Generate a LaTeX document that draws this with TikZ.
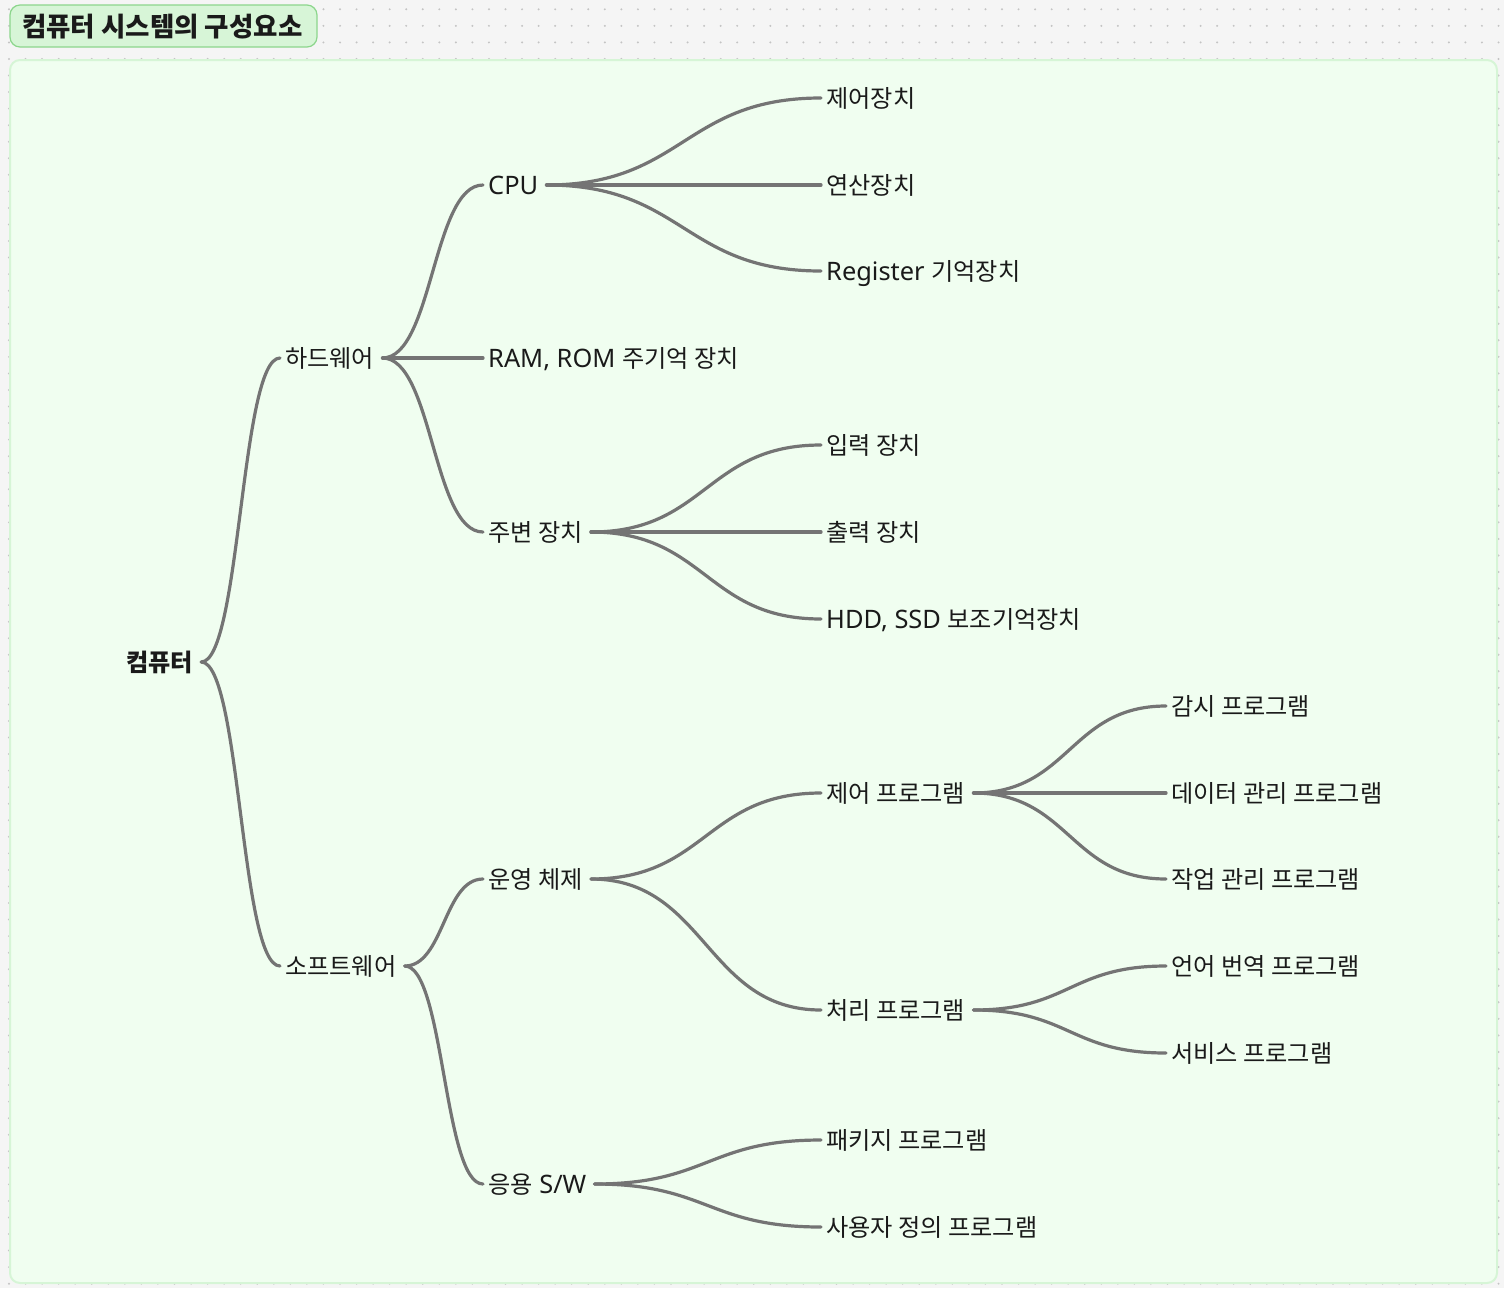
\documentclass[tikz,border=0pt]{standalone}
\usepackage{fontspec}
\setmainfont{Noto Sans CJK KR}
\newfontfamily\lat{Noto Sans}[Scale=1.05]
\usetikzlibrary{calc}
\definecolor{bgc}{HTML}{F5F5F5}
\definecolor{dotc}{HTML}{C4C4C4}
\definecolor{panelfill}{HTML}{F0FEF0}
\definecolor{panelline}{HTML}{D6F5D6}
\definecolor{titlefill}{HTML}{D7F5D7}
\definecolor{titleline}{HTML}{8CD68C}
\definecolor{linkc}{HTML}{747474}
\definecolor{txt}{HTML}{1A1A1A}
\tikzset{
  lbl/.style={anchor=west, inner xsep=0pt, inner ysep=0pt, text height=18pt, text depth=0pt,
    font=\fontsize{24.2}{28}\selectfont, text=txt},
  rootlbl/.style={lbl, font=\fontsize{24.2}{28}\selectfont\bfseries},
  titlelbl/.style={lbl, text height=20pt, font=\fontsize{26.5}{30}\selectfont\bfseries},
  link/.style={draw=linkc, line width=3.2pt, line cap=round},
}
\newcommand\lnk[2]{\draw[link] ([xshift=8pt]#1.east) let \p1=([xshift=8pt]#1.east), \p2=([xshift=-5pt]#2.west) in
  .. controls ({(\x1+\x2)/2},\y1) and ({(\x1+\x2)/2},\y2) .. (\p2);}
\begin{document}
\begin{tikzpicture}[x=1pt,y=-1pt]
\useasboundingbox (0,0) rectangle (1504,1288);
\fill[bgc] (0,0) rectangle (1504,1288);
\foreach \i in {0,...,90}{\foreach \j in {0,...,77}{\fill[dotc] ({9+16.55*\i},{9.3+16.55*\j}) circle (1.1);}}
\draw[draw=panelline, fill=panelfill, line width=2pt, rounded corners=10pt] (10,60) rectangle (1497,1283);
\draw[draw=titleline, fill=titlefill, line width=1.2pt, rounded corners=10pt] (10,5) rectangle (317,47);
\node[titlelbl] (title) at (22,26) {컴퓨터 시스템의 구성요소};

\node[rootlbl] (root) at (126,662) {컴퓨터};
\node[lbl] (hw) at (285,358) {하드웨어};
\node[lbl] (sw) at (285,966) {소프트웨어};
\node[lbl] (cpu) at (488,185) {{\lat CPU}};
\node[lbl] (ram) at (488,358) {{\lat RAM, ROM }주기억 장치};
\node[lbl] (per) at (488,532) {주변 장치};
\node[lbl] (os) at (488,879) {운영 체제};
\node[lbl] (app) at (488,1184) {응용{\lat{} S/W}};
\node[lbl] (ctrl) at (826,98) {제어장치};
\node[lbl] (alu) at (826,185) {연산장치};
\node[lbl] (reg) at (826,271) {{\lat Register }기억장치};
\node[lbl] (in) at (826,445) {입력 장치};
\node[lbl] (out) at (826,532) {출력 장치};
\node[lbl] (hdd) at (826,619) {{\lat HDD, SSD }보조기억장치};
\node[lbl] (cprog) at (826,793) {제어 프로그램};
\node[lbl] (pprog) at (826,1010) {처리 프로그램};
\node[lbl] (pkg) at (826,1140) {패키지 프로그램};
\node[lbl] (user) at (826,1227) {사용자 정의 프로그램};
\node[lbl] (mon) at (1171,706) {감시 프로그램};
\node[lbl] (data) at (1171,793) {데이터 관리 프로그램};
\node[lbl] (job) at (1171,879) {작업 관리 프로그램};
\node[lbl] (lang) at (1171,966) {언어 번역 프로그램};
\node[lbl] (svc) at (1171,1053) {서비스 프로그램};

\lnk{root}{hw}
\lnk{root}{sw}
\lnk{hw}{cpu}
\lnk{hw}{ram}
\lnk{hw}{per}
\lnk{cpu}{ctrl}
\lnk{cpu}{alu}
\lnk{cpu}{reg}
\lnk{per}{in}
\lnk{per}{out}
\lnk{per}{hdd}
\lnk{sw}{os}
\lnk{sw}{app}
\lnk{os}{cprog}
\lnk{os}{pprog}
\lnk{cprog}{mon}
\lnk{cprog}{data}
\lnk{cprog}{job}
\lnk{pprog}{lang}
\lnk{pprog}{svc}
\lnk{app}{pkg}
\lnk{app}{user}
\end{tikzpicture}
\end{document}
